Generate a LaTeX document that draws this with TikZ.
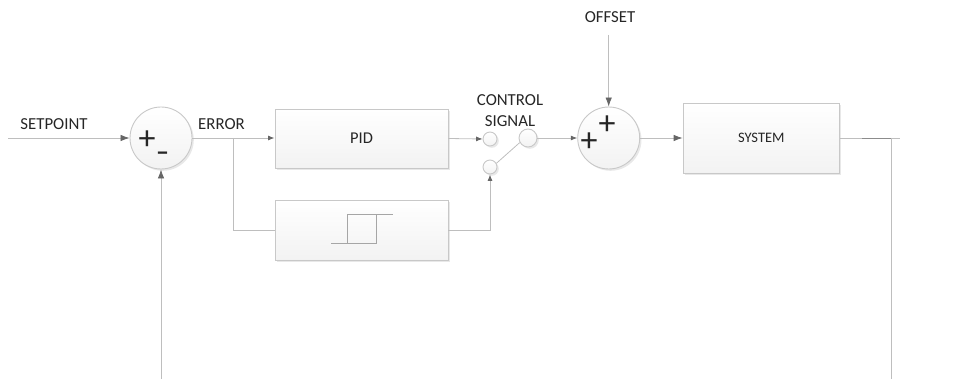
\documentclass[tikz,border=0pt]{standalone}
\usepackage{fontspec}
\setmainfont{Carlito}
\usetikzlibrary{arrows.meta,shadows,calc}
\definecolor{wire}{HTML}{BEBEBE}
\definecolor{tip}{HTML}{666666}
\definecolor{edge}{HTML}{C8C8C8}
\definecolor{ink}{HTML}{262626}
\tikzset{
  x=1pt,y=-1pt,
  softshadow/.style={drop shadow={shadow xshift=1.8pt,shadow yshift=-1.8pt,fill=black,opacity=.09}},
  blockbox/.style={draw=edge,line width=.9pt,rectangle,inner sep=0pt,top color=white,bottom color=black!5,softshadow,text=ink},
  sumnode/.style={draw=edge,line width=.9pt,circle,inner sep=0pt,minimum size=62pt,top color=white,bottom color=black!5,softshadow},
  contact/.style={draw=edge,line width=.9pt,circle,inner sep=0pt,top color=white,bottom color=black!5,softshadow},
  wirepath/.style={draw=wire,line width=.8pt},
  arrowpath/.style={wirepath,-{Latex[length=9pt,width=6.5pt,color=tip]}},
  smallarrow/.style={wirepath,-{Latex[length=6.5pt,width=5pt,color=tip]}},
  label/.style={font=\fontsize{16.8}{20}\selectfont,text=ink,inner sep=0pt,align=center},
  sign/.style={font=\fontsize{34}{34}\selectfont,text=ink,inner sep=0pt},
}
\begin{document}
\begin{tikzpicture}
\useasboundingbox (0,0) rectangle (961,379);
\node[sumnode] (s1) at (161,138) {};
\node[sumnode] (s2) at (608.7,138) {};
\node[blockbox,minimum width=173pt,minimum height=59pt] (pid) at (361.5,138.5) {\fontsize{16.5}{20}\selectfont PID};
\node[blockbox,minimum width=173pt,minimum height=60pt] (hyst) at (361.5,230) {};
\node[blockbox,minimum width=156.5pt,minimum height=70pt] (sys) at (761.3,138) {\fontsize{14.5}{17}\selectfont SYSTEM};
\node[contact,minimum size=14pt] (c1) at (490,139) {};
\node[contact,minimum size=14pt] (c2) at (490,167) {};
\node[contact,minimum size=18pt] (c3) at (528,138) {};
\node[label] (setpoint) at (54,124) {SETPOINT};
\node[label] (error) at (221.5,124.5) {ERROR};
\node[label] (signal) at (510,110.5) {CONTROL\\[1.2pt]SIGNAL};
\node[label] (offset) at (610,17) {OFFSET};
\node[sign] (p1) at (147,140) {+};
\node[sign] (m1) at (162.5,156) {\fontsize{26}{26}\selectfont\bfseries –};
\node[sign] (p2) at (589,142) {+};
\node[sign] (p3) at (607,125) {+};
\coordinate (spin) at (8,138);
\coordinate (offin) at (608.7,35);
\coordinate (fbin) at (161,379);
\coordinate (outend) at (900,138);
\coordinate (tap) at (891,138);
\coordinate (fbend) at (891,379);
\coordinate (branch) at (233.5,138);
\coordinate (darkstart) at (862,138);
\draw[arrowpath] (spin) -- (s1.west);
\draw[smallarrow] (s1.east) -- (s1.east -| pid.west);
\draw[wirepath] (branch) |- (hyst.west);
\draw[smallarrow] (pid.east) -- (c1.west);
\draw[smallarrow] (hyst.east) -| (c2.south);
\draw[wirepath] (c2.30) -- (c3.209);
\draw[smallarrow] (c3.east) -- (s2.west);
\draw[arrowpath] (offin) -- (s2.north);
\draw[arrowpath] (s2.east) -- (sys.west);
\draw[wirepath] (sys.east) -- (outend);
\draw[line width=.8pt,draw=black!45] (darkstart) -- (tap);
\draw[wirepath] (tap) -- (fbend);
\draw[arrowpath] (fbin) -- (s1.south);
\draw[line width=.7pt,draw=black!35] (331,243) -- (376,243) -- (376,214) -- (393,214);
\draw[line width=.7pt,draw=black!35] (347,243) -- (347,214) -- (376,214);
\end{tikzpicture}
\end{document}
